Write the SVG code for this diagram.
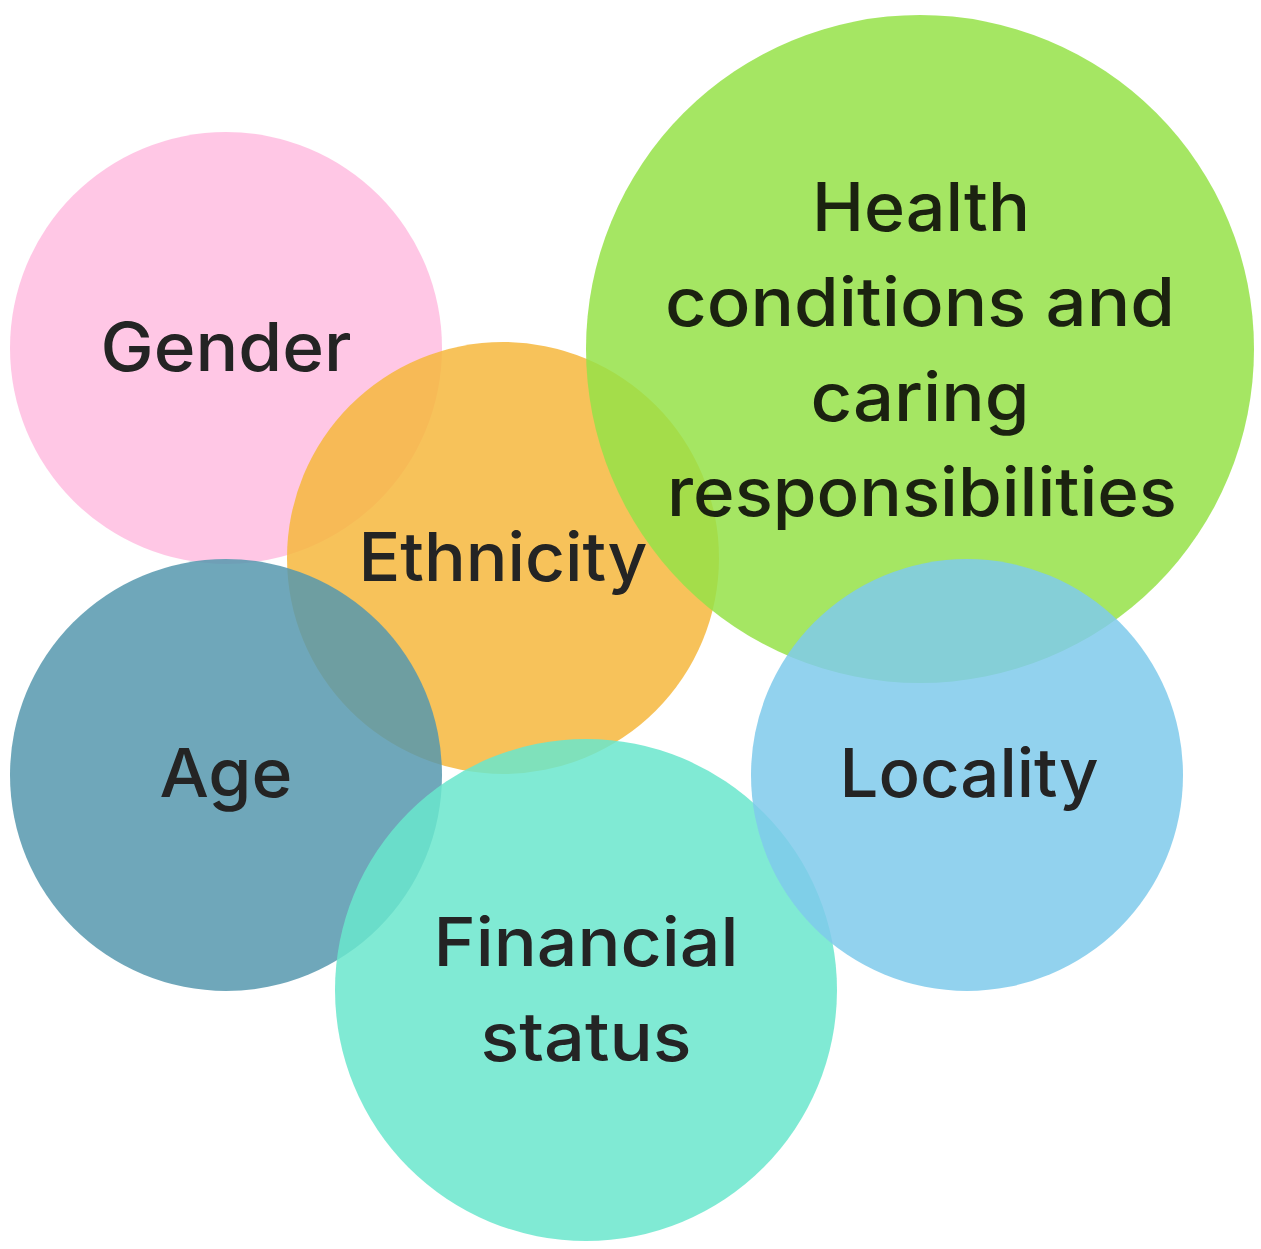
<svg xmlns="http://www.w3.org/2000/svg" width="1261" height="1249" viewBox="0 0 1261 1249">
  <style>
    .bubble { fill-opacity: 0.85; }
    .label { font-family: Inter, "Noto Sans", "Liberation Sans", sans-serif; font-size: 67px; font-weight: 500; fill: #242424; text-anchor: middle; }
    .label.dark { fill: #1B2210; }
  </style>
  <rect width="1261" height="1249" fill="#ffffff"/>

  <!-- bubbles are stacked bottom to top; each label sits above its own bubble -->
  <g id="gender">
    <circle class="bubble" cx="226" cy="348" r="216" fill="#FFBDE0"/>
    <text class="label" x="226" y="371" textLength="251" lengthAdjust="spacingAndGlyphs">Gender</text>
  </g>

  <g id="ethnicity">
    <circle class="bubble" cx="503" cy="558" r="216" fill="#F6B73D"/>
    <text class="label" x="503" y="581" textLength="289" lengthAdjust="spacingAndGlyphs">Ethnicity</text>
  </g>

  <g id="age">
    <circle class="bubble" cx="226" cy="775" r="216" fill="#5698AE"/>
    <text class="label" x="226" y="797" textLength="133" lengthAdjust="spacingAndGlyphs">Age</text>
  </g>

  <g id="health">
    <circle class="bubble" cx="920" cy="349" r="334" fill="#95E248"/>
    <text class="label dark" x="921" y="231" textLength="218" lengthAdjust="spacingAndGlyphs">Health</text>
    <text class="label dark" x="920" y="326" textLength="510" lengthAdjust="spacingAndGlyphs">conditions and</text>
    <text class="label dark" x="920" y="421" textLength="219" lengthAdjust="spacingAndGlyphs">caring</text>
    <text class="label dark" x="922" y="516" textLength="510" lengthAdjust="spacingAndGlyphs">responsibilities</text>
  </g>

  <g id="financial-status">
    <circle class="bubble" cx="586" cy="990" r="251" fill="#6AE6CC"/>
    <text class="label" x="586" y="966" textLength="305" lengthAdjust="spacingAndGlyphs">Financial</text>
    <text class="label" x="586" y="1061" textLength="211" lengthAdjust="spacingAndGlyphs">status</text>
  </g>

  <g id="locality">
    <circle class="bubble" cx="967" cy="775" r="216" fill="#7FCAEB"/>
    <text class="label" x="969" y="797" textLength="259" lengthAdjust="spacingAndGlyphs">Locality</text>
  </g>

  <!-- no connectors: the bubbles only overlap -->
  <g id="connectors"/>
</svg>
